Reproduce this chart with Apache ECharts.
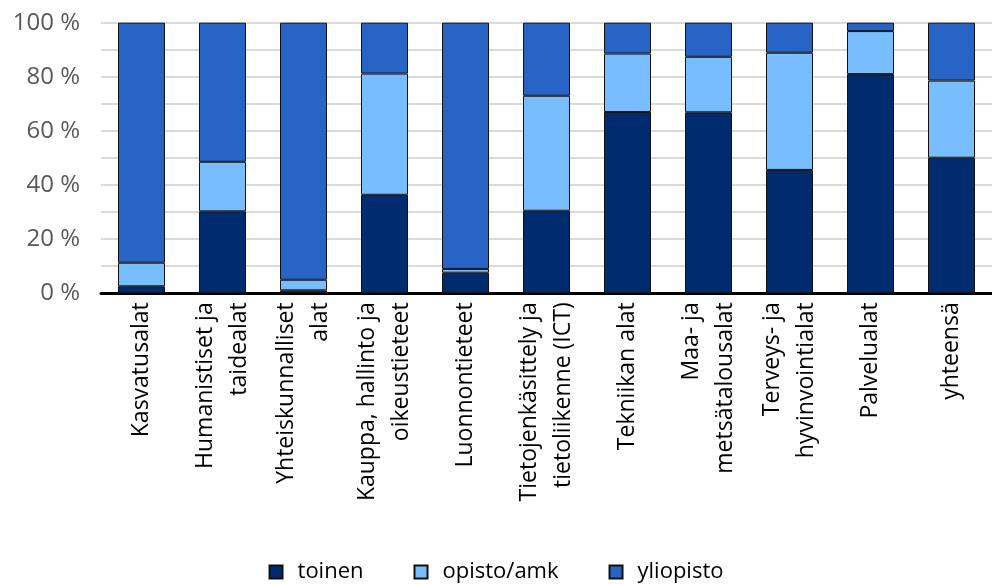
<!DOCTYPE html>
<html>
<head>
<meta charset="utf-8">
<script src="https://cdn.jsdelivr.net/npm/echarts@6/dist/echarts.min.js"></script>
<style>
html,body{margin:0;padding:0;background:#fff;}
#chart{width:992px;height:584px;}
</style>
</head>
<body>
<div id="chart"></div>
<script>
const categories = [
  "Kasvatusalat",
  "Humanistiset ja\ntaidealat",
  "Yhteiskunnalliset\nalat",
  "Kauppa, hallinto ja\noikeustieteet",
  "Luonnontieteet",
  "Tietojenkäsittely ja\ntietoliikenne (ICT)",
  "Tekniikan alat",
  "Maa- ja\nmetsätalousalat",
  "Terveys- ja\nhyvinvointialat",
  "Palvelualat",
  "yhteensä"
];
const seriesNames = ["toinen", "opisto/amk", "yliopisto"];
const toinen    = [2.6, 30.3, 1.1, 36.4, 7.6, 30.5, 67.0, 66.9, 45.6, 81.0, 50.1];
const opistoAmk = [8.7, 18.3, 3.9, 44.8, 1.4, 42.5, 21.6, 20.5, 43.3, 15.9, 28.5];
const yliopisto = [88.7, 51.4, 95.0, 18.8, 91.0, 27.0, 11.4, 12.6, 11.1, 3.1, 21.4];
const yTicks = [0, 20, 40, 60, 80, 100];

const colors = ["#002b6e", "#78bdff", "#2764c5"];
const font = "'Open Sans', 'Noto Sans', sans-serif";

const chart = echarts.init(document.getElementById('chart'), null, {renderer: 'canvas'});
const mk = (name, data, i) => ({
  name: name,
  type: 'bar',
  stack: 'total',
  data: data,
  barWidth: 47,
  itemStyle: {color: colors[i], borderColor: '#111', borderWidth: 1},
  emphasis: {disabled: true}
});
chart.setOption({
  animation: false,
  textStyle: {fontFamily: font},
  grid: {left: 101, right: -13, top: 22.7, bottom: 290.7, containLabel: false},
  xAxis: {
    type: 'category',
    data: categories,
    axisLine: {show: true, lineStyle: {color: '#000', width: 3}},
    axisTick: {show: false},
    axisLabel: {
      rotate: 90, interval: 0, margin: 9, align: 'right',
      color: '#000', fontSize: 23, lineHeight: 34, fontFamily: font
    }
  },
  yAxis: {
    type: 'value',
    min: 0, max: 100, interval: 10,
    axisLine: {show: false},
    axisTick: {show: false},
    splitLine: {show: true, lineStyle: {color: '#dadada', width: 2}},
    axisLabel: {
      margin: 21, color: '#595959', fontSize: 24, fontFamily: font,
      formatter: v => yTicks.includes(v) ? v + ' %' : ''
    }
  },
  legend: {
    top: 556, left: 'center',
    itemWidth: 13, itemHeight: 13, itemGap: 50,
    icon: 'rect',
    textStyle: {fontSize: 22, color: '#000', fontFamily: font, padding: [0, 0, 0, 10]},
    data: seriesNames
  },
  series: [
    mk(seriesNames[0], toinen, 0),
    mk(seriesNames[1], opistoAmk, 1),
    mk(seriesNames[2], yliopisto, 2)
  ]
});
</script>
</body>
</html>
